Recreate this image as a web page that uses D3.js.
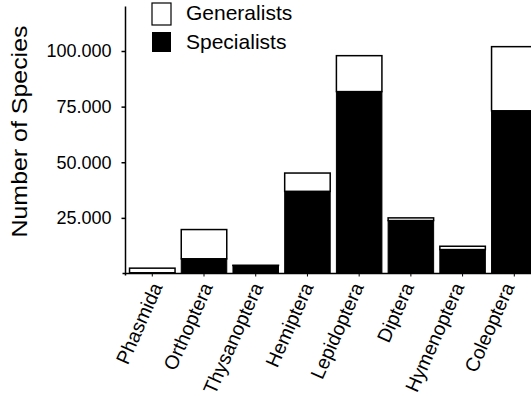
<!DOCTYPE html>
<html><head><meta charset="utf-8">
<script src="https://cdn.jsdelivr.net/npm/d3@7"></script>
<style>body{margin:0;background:#fff}svg{display:block}text{font-family:"Liberation Sans",Arial,sans-serif;fill:#000}</style>
</head><body><svg id="c" width="531" height="396"></svg>
<script>
const categories = ["Phasmida","Orthoptera","Thysanoptera","Hemiptera","Lepidoptera","Diptera","Hymenoptera","Coleoptera"];
const specialists = [300, 6600, 3600, 36900, 81750, 23800, 10750, 73100];
const generalists = [2100, 13150, 100, 8250, 16150, 1200, 1500, 28850];
const yTicks = [25000, 50000, 75000, 100000];
const seriesNames = ["Generalists","Specialists"];

const svg = d3.select("#c");
const x0 = 125.5, yBase = 273.5;
const x = d3.scaleBand().domain(categories).range([128.5, 128.5 + 51.2*8]).paddingInner(0.12).paddingOuter(0.02);
const xLab = d3.scalePoint().domain(categories).range([163, 515]);
const y = d3.scaleLinear().domain([0, 120000]).range([yBase, 6.5]);
const loc = d3.formatLocale({decimal:",", thousands:".", grouping:[3], currency:["",""]});
const fmt = loc.format(",");

const data = categories.map((c,i)=>({c, s:specialists[i], g:generalists[i]}));

// bars
const bars = svg.append("g");
data.forEach(d=>{
  const bx = x(d.c), bw = x.bandwidth();
  bars.append("rect").attr("x", bx).attr("y", y(d.s + d.g)).attr("width", bw)
    .attr("height", y(d.s) - y(d.s + d.g)).attr("fill","#fff").attr("stroke","#000").attr("stroke-width",1.5);
  if (d.s > 0) bars.append("rect").attr("x", bx).attr("y", y(d.s)).attr("width", bw)
    .attr("height", yBase - y(d.s)).attr("fill","#000").attr("stroke","#000").attr("stroke-width",1);
});

// y axis
const yAxis = d3.axisLeft(y).tickValues(yTicks).tickFormat(fmt).tickSize(4).tickPadding(10);
const ga = svg.append("g").attr("transform",`translate(${x0},0)`).call(yAxis);
ga.select(".domain").remove();
ga.selectAll("text").style("font-size","18px").attr("fill","#000");
ga.selectAll("line").attr("stroke","#000").attr("stroke-width",1.5);
svg.append("line").attr("x1",x0).attr("x2",x0).attr("y1",y(120000)).attr("y2",yBase+2).attr("stroke","#000").attr("stroke-width",1.5);

// x axis baseline
const xAxis = d3.axisBottom(x).tickSize(3).tickFormat("");
const gx = svg.append("g").attr("transform",`translate(0,${yBase})`).call(xAxis);
gx.select(".domain").remove();
gx.selectAll("line").attr("stroke","#000");
svg.append("line").attr("x1",x0-3).attr("x2",531).attr("y1",yBase).attr("y2",yBase).attr("stroke","#000").attr("stroke-width",1.5);

// category labels
data.forEach(d=>{
  svg.append("text").attr("transform",`translate(${xLab(d.c)},${yBase+13}) rotate(-66)`)
    .attr("text-anchor","end").style("font-size","19.5px").text(d.c);
});

// y label
svg.append("text").attr("transform","rotate(-90)").attr("x",-131.5).attr("y",27)
  .attr("text-anchor","middle").style("font-size","22px")
  .attr("textLength",212).attr("lengthAdjust","spacingAndGlyphs").text("Number of Species");

// legend
const lg = svg.append("g");
lg.append("rect").attr("x",152).attr("y",3).attr("width",19).attr("height",22).attr("fill","#fff").attr("stroke","#000").attr("stroke-width",1.2);
lg.append("rect").attr("x",152).attr("y",32).attr("width",19).attr("height",20).attr("fill","#000");
lg.append("text").attr("x",186).attr("y",20).style("font-size","21px").text(seriesNames[0]);
lg.append("text").attr("x",186).attr("y",49).style("font-size","21px").text(seriesNames[1]);
</script></body></html>
